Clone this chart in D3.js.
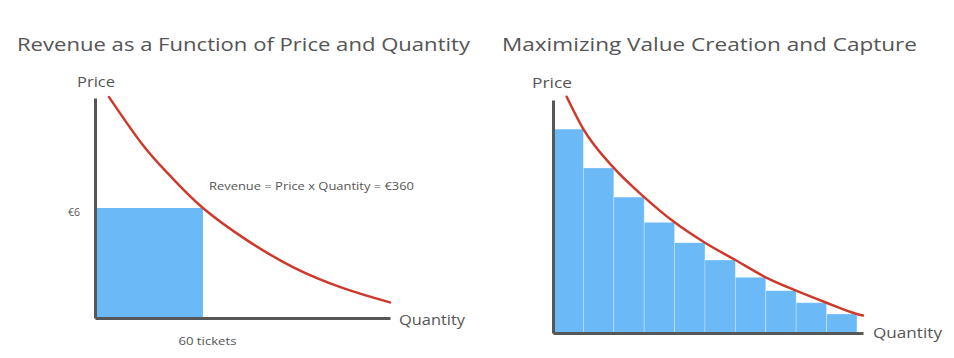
<!DOCTYPE html>
<html><head><meta charset="utf-8">
<script src="https://cdn.jsdelivr.net/npm/d3@7"></script>
<style>
body{margin:0;background:#fff}
svg{display:block}
text{font-family:"Open Sans",sans-serif;fill:#555}
</style>
</head><body><svg id="c" width="954" height="358"></svg>
<script>
// ---------- data ----------
const titles = ["Revenue as a Function of Price and Quantity", "Maximizing Value Creation and Capture"];
const yAxisLabel = "Price";
const xAxisLabel = "Quantity";
// left chart: demand curve (quantity in tickets, price in €)
const leftCurveQ = [7.8, 26.7, 41.7, 60, 84.4, 110, 138, 164];
const leftCurveP = [12.05, 9.42, 7.76, 6.0, 4.25, 2.78, 1.63, 0.85];
const revenueQ = [60];
const revenueP = [6];
const leftXTicks = ["60 tickets"];
const leftYTicks = ["€6"];
const annotation = "Revenue = Price x Quantity = €360";
// right chart: price-discriminated steps
const barSteps = [0, 1, 2, 3, 4, 5, 6, 7, 8, 9];
const barPrices = [10.5, 8.5, 7.0, 5.7, 4.65, 3.76, 2.87, 2.18, 1.56, 0.98];
const rightCurveQ = [0.45, 1, 2, 3, 4, 5, 6, 7, 8, 9, 10, 10.2];
const rightCurveP = [12.17, 10.5, 8.5, 7.0, 5.7, 4.65, 3.76, 2.87, 2.18, 1.56, 0.98, 0.9];

// ---------- styles ----------
const BLUE = "#6cb9f7", RED = "#cc3a2c", AXIS = "#575757";
const svg = d3.select("#c");

// titles
svg.append("text").attr("x", 17).attr("y", 51).attr("font-size", 19)
  .attr("textLength", 453).attr("lengthAdjust", "spacingAndGlyphs").text(titles[0]);
svg.append("text").attr("x", 502).attr("y", 51).attr("font-size", 19)
  .attr("textLength", 415).attr("lengthAdjust", "spacingAndGlyphs").text(titles[1]);

// ---------- left chart ----------
const xL = d3.scaleLinear().domain([0, 164]).range([95, 390]);
const yL = d3.scaleLinear().domain([0, 12]).range([318, 98]);
const gL = svg.append("g");

gL.selectAll("rect.rev").data(revenueQ).enter().append("rect")
  .attr("x", xL(0)).attr("y", (d, i) => yL(revenueP[i]))
  .attr("width", d => xL(d) - xL(0)).attr("height", (d, i) => yL(0) - yL(revenueP[i]))
  .attr("fill", BLUE);

const axL_x = d3.axisBottom(xL).tickValues(revenueQ).tickFormat((d, i) => leftXTicks[i]).tickSize(0).tickPadding(20);
const axL_y = d3.axisLeft(yL).tickValues(revenueP).tickFormat((d, i) => leftYTicks[i]).tickSize(0).tickPadding(15);
const gxL = gL.append("g").attr("transform", `translate(0,${yL(0)})`).call(axL_x);
const gyL = gL.append("g").attr("transform", `translate(${xL(0)},0)`).call(axL_y);
[gxL, gyL].forEach(g => {
  g.select(".domain").attr("stroke", AXIS).attr("stroke-width", 3);
  g.selectAll("text").attr("font-family", '"Open Sans",sans-serif').attr("fill", "#555").attr("font-size", 10.5);
});
gxL.selectAll(".tick text").attr("dx", 4).attr("textLength", 58).attr("lengthAdjust", "spacingAndGlyphs");
gyL.selectAll(".tick text").attr("dy", "0.75em");

const lineL = d3.line().x((d, i) => xL(leftCurveQ[i])).y(d => yL(d)).curve(d3.curveNatural);
gL.append("path").datum(leftCurveP).attr("d", lineL).attr("fill", "none")
  .attr("stroke", RED).attr("stroke-width", 2.5).attr("stroke-linecap", "round");

gL.append("text").attr("x", 209).attr("y", 190).attr("font-size", 11)
  .attr("textLength", 205).attr("lengthAdjust", "spacingAndGlyphs").text(annotation);
gL.append("text").attr("x", 77).attr("y", 87).attr("font-size", 14)
  .attr("textLength", 38).attr("lengthAdjust", "spacingAndGlyphs").text(yAxisLabel);
gL.append("text").attr("x", 399).attr("y", 325).attr("font-size", 15)
  .attr("textLength", 66).attr("lengthAdjust", "spacingAndGlyphs").text(xAxisLabel);

// ---------- right chart ----------
const xR = d3.scaleLinear().domain([0, 10.2]).range([553, 863]);
const yR = d3.scaleLinear().domain([0, 12]).range([333, 100]);
const gR = svg.append("g");

gR.selectAll("rect.bar").data(barPrices).enter().append("rect")
  .attr("x", (d, i) => xR(barSteps[i])).attr("y", d => yR(d))
  .attr("width", (d, i) => xR(barSteps[i] + 1) - xR(barSteps[i]))
  .attr("height", d => yR(0) - yR(d))
  .attr("fill", BLUE).attr("stroke", "#ffffff").attr("stroke-opacity", 0.35).attr("stroke-width", 0.8);

const gxR = gR.append("g").attr("transform", `translate(0,${yR(0)})`).call(d3.axisBottom(xR).tickValues([]).tickSizeOuter(0));
const gyR = gR.append("g").attr("transform", `translate(${xR(0)},0)`).call(d3.axisLeft(yR).tickValues([]).tickSizeOuter(0));
[gxR, gyR].forEach(g => g.select(".domain").attr("stroke", AXIS).attr("stroke-width", 3));

const lineR = d3.line().x((d, i) => xR(rightCurveQ[i])).y(d => yR(d)).curve(d3.curveMonotoneX);
gR.append("path").datum(rightCurveP).attr("d", lineR).attr("fill", "none")
  .attr("stroke", RED).attr("stroke-width", 2.5).attr("stroke-linecap", "round");

gR.append("text").attr("x", 532).attr("y", 88).attr("font-size", 14)
  .attr("textLength", 40).attr("lengthAdjust", "spacingAndGlyphs").text(yAxisLabel);
gR.append("text").attr("x", 873).attr("y", 338).attr("font-size", 15)
  .attr("textLength", 69).attr("lengthAdjust", "spacingAndGlyphs").text(xAxisLabel);
</script>
</body></html>
